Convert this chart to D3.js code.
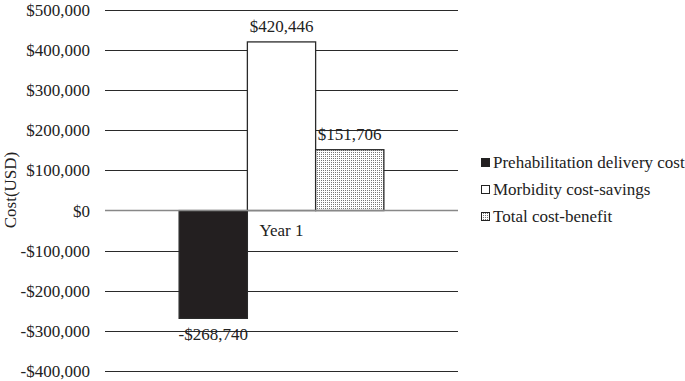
<!DOCTYPE html>
<html>
<head>
<meta charset="utf-8">
<script src="https://cdn.jsdelivr.net/npm/d3@7"></script>
<style>
  body { margin: 0; background: #fff; }
  svg text { font-family: "Liberation Serif", "Times New Roman", serif; fill: #222; }
</style>
</head>
<body>
<svg id="chart" width="685" height="381"></svg>
<script>
const categories = ['Year 1']
const seriesNames = ['Prehabilitation delivery cost', 'Morbidity cost-savings', 'Total cost-benefit']
const seriesValues = [-268740, 420446, 151706]
const tickValues = [-400000, -300000, -200000, -100000, 0, 100000, 200000, 300000, 400000, 500000]

const svg = d3.select('#chart')
const margin = {top: 10, right: 227, bottom: 10, left: 105}
const width = 685 - margin.left - margin.right
const height = 381 - margin.top - margin.bottom

const defs = svg.append('defs')
const pat = defs.append('pattern')
    .attr('id', 'dots')
    .attr('width', 2)
    .attr('height', 2)
    .attr('patternUnits', 'userSpaceOnUse')
pat.append('rect').attr('width', 2).attr('height', 2).attr('fill', '#fff')
pat.append('rect').attr('width', 1).attr('height', 1).attr('fill', '#777')

const fills = ['#231f20', '#fff', 'url(#dots)']

const g = svg.append('g').attr('transform', `translate(${margin.left},${margin.top})`)

const y = d3.scaleLinear().domain([-400000, 500000]).range([height, 0])
const x0 = d3.scaleBand().domain(categories).range([0, width]).paddingInner(0.42).paddingOuter(0.21)
const x1 = d3.scaleBand().domain(seriesNames).range([0, x0.bandwidth()])

const fmt = v => (v < 0 ? '-$' : '$') + d3.format(',')(Math.abs(v))

// gridlines
g.selectAll('.grid')
    .data(tickValues.filter(d => d !== 0))
    .enter()
    .append('line')
    .attr('x1', 0)
    .attr('x2', width)
    .attr('y1', d => Math.round(y(d)) + 0.5)
    .attr('y2', d => Math.round(y(d)) + 0.5)
    .attr('stroke', '#2a2a2a')
    .attr('stroke-width', 1)

// y tick labels
const yAxis = g.append('g')
    .call(d3.axisLeft(y).tickValues(tickValues).tickFormat(fmt).tickSize(0).tickPadding(15))
yAxis.select('.domain').remove()
yAxis.selectAll('text')
    .style('font-size', '17px')
    .attr('fill', '#222')

// bars
const data = seriesNames.map((name, i) => ({name, value: seriesValues[i], cat: categories[0]}))

g.selectAll('.bar')
    .data(data)
    .enter()
    .append('rect')
    .attr('x', d => x0(d.cat) + x1(d.name))
    .attr('y', d => y(Math.max(0, d.value)))
    .attr('width', x1.bandwidth())
    .attr('height', d => Math.abs(y(d.value) - y(0)))
    .attr('fill', (d, i) => fills[i])
    .attr('stroke', '#2a2a2a')
    .attr('stroke-width', 1.3)

// zero axis
g.append('line')
    .attr('x1', 0)
    .attr('x2', width)
    .attr('y1', y(0))
    .attr('y2', y(0))
    .attr('stroke', '#888')
    .attr('stroke-width', 1.5)

// value labels
g.selectAll('.vlabel')
    .data(data)
    .enter()
    .append('text')
    .attr('x', d => x0(d.cat) + x1(d.name) + x1.bandwidth() / 2)
    .attr('y', d => d.value >= 0 ? y(d.value) - 10 : y(d.value) + 22)
    .attr('text-anchor', 'middle')
    .attr('font-size', 17)
    .text(d => fmt(d.value))

// category label
g.append('text')
    .attr('x', x0(categories[0]) + x0.bandwidth() / 2)
    .attr('y', y(0) + 25)
    .attr('text-anchor', 'middle')
    .attr('font-size', 17)
    .text(categories[0])

// y title
svg.append('text')
    .attr('transform', 'translate(16,190) rotate(-90)')
    .attr('text-anchor', 'middle')
    .attr('font-size', 17)
    .text('Cost(USD)')

// legend
const legend = svg.append('g').attr('transform', 'translate(481,163)')
seriesNames.forEach((name, i) => {
    const row = legend.append('g').attr('transform', `translate(0,${i * 27})`)
    row.append('rect')
        .attr('x', 0.5)
        .attr('y', -4.5)
        .attr('width', 8)
        .attr('height', 8)
        .attr('fill', fills[i])
        .attr('stroke', '#222')
        .attr('stroke-width', 1)
    row.append('text')
        .attr('x', 12)
        .attr('y', 5)
        .attr('font-size', 17)
        .text(name)
})
</script>
</body>
</html>
